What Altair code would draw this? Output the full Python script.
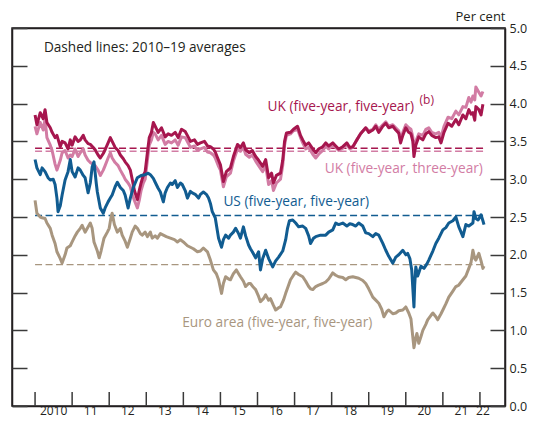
import altair as alt
import pandas as pd

# ---------------- data (decimal years, per cent) ----------------
uk_t = [2010.00, 2010.05, 2010.14, 2010.22, 2010.27, 2010.32, 2010.41, 2010.46, 2010.54, 2010.59, 2010.68, 2010.73, 2010.81, 2010.89, 2010.95,
        2011.00, 2011.08, 2011.16, 2011.22, 2011.30, 2011.35, 2011.43, 2011.49, 2011.57, 2011.62, 2011.70, 2011.76, 2011.84, 2011.89, 2011.97,
        2012.03, 2012.08, 2012.16, 2012.24, 2012.30, 2012.38, 2012.43, 2012.51, 2012.57, 2012.62, 2012.68, 2012.76, 2012.81, 2012.86, 2012.92, 2012.97,
        2013.03, 2013.08, 2013.14, 2013.19, 2013.24, 2013.32, 2013.41, 2013.51, 2013.59, 2013.68, 2013.78, 2013.86, 2013.95,
        2014.05, 2014.14, 2014.19, 2014.30, 2014.38, 2014.46, 2014.57, 2014.65, 2014.73, 2014.81, 2014.86, 2014.95,
        2015.00, 2015.08, 2015.16, 2015.27, 2015.35, 2015.46, 2015.54, 2015.62, 2015.68, 2015.78, 2015.86, 2015.95,
        2016.03, 2016.14, 2016.22, 2016.30, 2016.38, 2016.43, 2016.51, 2016.62, 2016.68, 2016.73, 2016.78, 2016.89, 2016.97,
        2017.08, 2017.16, 2017.22, 2017.30, 2017.38, 2017.49, 2017.57, 2017.65, 2017.76, 2017.84, 2017.92,
        2018.03, 2018.11, 2018.19, 2018.30, 2018.41, 2018.49, 2018.57, 2018.68, 2018.78, 2018.92,
        2019.00, 2019.11, 2019.19, 2019.27, 2019.38, 2019.46, 2019.54, 2019.65, 2019.73, 2019.81, 2019.86, 2019.92,
        2020.00, 2020.08, 2020.14, 2020.19, 2020.22, 2020.27, 2020.35, 2020.46, 2020.54, 2020.62, 2020.70, 2020.81, 2020.89, 2020.95,
        2021.03, 2021.14, 2021.24, 2021.35, 2021.43, 2021.54, 2021.62, 2021.70, 2021.76, 2021.81, 2021.86, 2021.89, 2021.97,
        2022.03, 2022.08]

uk_5y5y = [3.85, 3.72, 3.88, 3.80, 3.92, 3.75, 3.68, 3.62, 3.55, 3.58, 3.43, 3.50, 3.48, 3.40, 3.52,
           3.45, 3.56, 3.50, 3.52, 3.58, 3.52, 3.47, 3.46, 3.42, 3.39, 3.32, 3.28, 3.34, 3.39, 3.48,
           3.55, 3.50, 3.42, 3.38, 3.32, 3.27, 3.23, 3.18, 3.12, 3.00, 2.85, 2.73, 2.85, 2.95, 3.05, 3.10,
           3.35, 3.55, 3.62, 3.75, 3.70, 3.62, 3.68, 3.56, 3.60, 3.58, 3.62, 3.55, 3.66,
           3.63, 3.55, 3.50, 3.52, 3.46, 3.48, 3.50, 3.44, 3.43, 3.40, 3.36, 3.25,
           3.19, 2.97, 3.10, 3.15, 3.30, 3.46, 3.42, 3.48, 3.39, 3.35, 3.38, 3.30,
           3.25, 3.17, 3.26, 3.02, 3.08, 2.95, 3.05, 3.08, 3.25, 3.50, 3.61, 3.62, 3.66,
           3.70, 3.58, 3.52, 3.45, 3.48, 3.40, 3.35, 3.40, 3.43, 3.48, 3.44,
           3.48, 3.44, 3.40, 3.43, 3.48, 3.42, 3.43, 3.52, 3.60, 3.68,
           3.62, 3.65, 3.70, 3.62, 3.70, 3.74, 3.68, 3.70, 3.65, 3.61, 3.48, 3.58,
           3.68, 3.62, 3.60, 3.50, 3.30, 3.45, 3.56, 3.52, 3.60, 3.63, 3.58, 3.55, 3.56, 3.48,
           3.62, 3.74, 3.70, 3.79, 3.72, 3.85, 3.80, 3.92, 3.86, 3.88, 3.78, 3.96, 3.92,
           3.85, 3.99]

uk_5y3y = [3.70, 3.60, 3.75, 3.65, 3.80, 3.55, 3.45, 3.38, 3.20, 3.12, 3.25, 3.35, 3.38, 3.28, 3.32,
           3.30, 3.40, 3.30, 3.35, 3.40, 3.32, 3.25, 3.22, 3.20, 3.18, 3.12, 3.05, 3.12, 3.18, 3.28,
           3.35, 3.28, 3.22, 3.18, 3.12, 3.05, 3.00, 2.95, 2.90, 2.80, 2.72, 2.62, 2.72, 2.85, 2.95, 3.00,
           3.25, 3.45, 3.52, 3.62, 3.60, 3.52, 3.58, 3.46, 3.50, 3.48, 3.52, 3.45, 3.56,
           3.55, 3.47, 3.42, 3.44, 3.38, 3.40, 3.42, 3.36, 3.35, 3.32, 3.28, 3.17,
           3.12, 2.90, 3.03, 3.08, 3.24, 3.40, 3.37, 3.42, 3.33, 3.29, 3.32, 3.24,
           3.18, 3.10, 3.18, 2.93, 2.98, 2.85, 2.95, 3.00, 3.18, 3.45, 3.58, 3.60, 3.64,
           3.66, 3.55, 3.48, 3.40, 3.42, 3.33, 3.28, 3.33, 3.38, 3.44, 3.40,
           3.45, 3.42, 3.38, 3.41, 3.46, 3.40, 3.42, 3.52, 3.60, 3.68,
           3.64, 3.66, 3.72, 3.66, 3.72, 3.76, 3.70, 3.72, 3.68, 3.64, 3.52, 3.62,
           3.72, 3.68, 3.66, 3.56, 3.38, 3.50, 3.60, 3.58, 3.66, 3.68, 3.62, 3.60, 3.62, 3.55,
           3.70, 3.82, 3.80, 3.90, 3.85, 3.96, 3.95, 4.08, 4.02, 4.10, 4.05, 4.22, 4.15,
           4.10, 4.16]

us_t = [2010.00, 2010.05, 2010.14, 2010.19, 2010.27, 2010.35, 2010.41, 2010.49, 2010.54, 2010.59, 2010.62, 2010.68, 2010.73, 2010.81, 2010.89, 2010.95,
        2011.00, 2011.08, 2011.16, 2011.22, 2011.30, 2011.35, 2011.43, 2011.49, 2011.54, 2011.59, 2011.65, 2011.68, 2011.76, 2011.84, 2011.89, 2011.97,
        2012.03, 2012.08, 2012.16, 2012.22, 2012.30, 2012.38, 2012.43, 2012.51, 2012.57, 2012.65, 2012.76, 2012.86, 2012.97,
        2013.05, 2013.11, 2013.19, 2013.24, 2013.32, 2013.38, 2013.46, 2013.51, 2013.57, 2013.65, 2013.70, 2013.78, 2013.84, 2013.92, 2013.97,
        2014.05, 2014.11, 2014.19, 2014.24, 2014.32, 2014.41, 2014.46, 2014.54, 2014.62, 2014.68, 2014.73, 2014.78, 2014.86, 2014.95,
        2015.03, 2015.08, 2015.14, 2015.22, 2015.27, 2015.35, 2015.41, 2015.49, 2015.54, 2015.62, 2015.68, 2015.76, 2015.81, 2015.86, 2015.95,
        2016.03, 2016.08, 2016.14, 2016.22, 2016.30, 2016.41, 2016.49, 2016.57, 2016.68, 2016.76, 2016.81, 2016.86, 2016.95,
        2017.03, 2017.11, 2017.22, 2017.30, 2017.38, 2017.43, 2017.51, 2017.57, 2017.70, 2017.84, 2017.92,
        2018.03, 2018.11, 2018.19, 2018.30, 2018.41, 2018.49, 2018.57, 2018.65, 2018.73, 2018.84, 2018.92,
        2019.00, 2019.11, 2019.19, 2019.27, 2019.38, 2019.46, 2019.54, 2019.65, 2019.73, 2019.81, 2019.92,
        2020.00, 2020.05, 2020.11, 2020.16, 2020.22, 2020.24, 2020.27, 2020.32, 2020.35, 2020.41, 2020.49, 2020.57, 2020.62, 2020.73, 2020.81, 2020.89,
        2021.00, 2021.08, 2021.16, 2021.27, 2021.35, 2021.43, 2021.49, 2021.54, 2021.62, 2021.70, 2021.81, 2021.84, 2021.89, 2021.95,
        2022.03, 2022.08, 2022.11]

us_5y5y = [3.26, 3.15, 3.06, 3.15, 3.10, 3.02, 2.99, 3.00, 2.93, 2.75, 2.57, 2.65, 2.79, 2.99, 3.10, 3.26,
           3.10, 3.03, 3.15, 3.12, 3.05, 3.02, 2.82, 2.95, 3.16, 3.23, 2.95, 2.83, 2.62, 2.55, 2.62, 2.70,
           2.75, 2.79, 2.90, 2.96, 2.89, 2.85, 2.79, 2.62, 2.75, 2.89, 3.02, 3.05, 3.06,
           3.08, 3.06, 3.01, 2.96, 2.88, 2.83, 2.70, 2.82, 2.89, 2.95, 2.93, 2.98, 2.89, 2.95, 2.93,
           2.85, 2.75, 2.84, 2.82, 2.80, 2.75, 2.80, 2.83, 2.80, 2.75, 2.68, 2.57, 2.49, 2.22,
           2.10, 2.20, 2.26, 2.22, 2.26, 2.30, 2.35, 2.28, 2.22, 2.37, 2.25, 2.13, 2.08, 2.04, 1.96,
           2.04, 1.80, 1.95, 2.06, 1.95, 1.84, 1.92, 1.97, 2.05, 2.20, 2.35, 2.45, 2.46,
           2.42, 2.37, 2.38, 2.35, 2.25, 2.15, 2.22, 2.24, 2.26, 2.26, 2.30,
           2.33, 2.42, 2.40, 2.42, 2.38, 2.41, 2.40, 2.38, 2.42, 2.38, 2.29,
           2.28, 2.24, 2.28, 2.26, 2.15, 2.06, 1.98, 1.89, 1.97, 2.00, 2.06,
           2.00, 2.02, 1.95, 1.80, 1.31, 1.60, 1.84, 1.72, 1.76, 1.85, 1.82, 1.88, 1.93, 2.05, 2.15, 2.22,
           2.33, 2.36, 2.42, 2.45, 2.50, 2.37, 2.30, 2.24, 2.40, 2.38, 2.42, 2.57, 2.48, 2.46,
           2.53, 2.45, 2.40]

ea_t = [2010.00, 2010.05, 2010.14, 2010.19, 2010.27, 2010.32, 2010.41, 2010.46, 2010.54, 2010.59, 2010.68, 2010.73, 2010.81, 2010.86, 2010.95,
        2011.00, 2011.08, 2011.14, 2011.22, 2011.27, 2011.35, 2011.41, 2011.49, 2011.54, 2011.59, 2011.68, 2011.73, 2011.78, 2011.86, 2011.95,
        2012.00, 2012.05, 2012.08, 2012.14, 2012.22, 2012.30, 2012.35, 2012.43, 2012.49, 2012.57, 2012.62, 2012.70, 2012.76, 2012.84, 2012.89, 2012.97,
        2013.03, 2013.11, 2013.16, 2013.24, 2013.30, 2013.38, 2013.46, 2013.54, 2013.65, 2013.76, 2013.84, 2013.92,
        2014.00, 2014.11, 2014.19, 2014.27, 2014.38, 2014.46, 2014.54, 2014.65, 2014.73, 2014.81, 2014.89, 2014.95,
        2015.03, 2015.08, 2015.14, 2015.22, 2015.27, 2015.35, 2015.43, 2015.49, 2015.54, 2015.62, 2015.68, 2015.76, 2015.81, 2015.89, 2015.95,
        2016.03, 2016.08, 2016.16, 2016.22, 2016.30, 2016.35, 2016.43, 2016.49, 2016.57, 2016.62, 2016.70, 2016.76, 2016.84, 2016.89, 2016.97,
        2017.03, 2017.11, 2017.22, 2017.30, 2017.38, 2017.43, 2017.49, 2017.57, 2017.65, 2017.76, 2017.84, 2017.92,
        2018.03, 2018.11, 2018.19, 2018.30, 2018.38, 2018.46, 2018.57, 2018.65, 2018.73, 2018.84, 2018.92,
        2019.00, 2019.11, 2019.19, 2019.27, 2019.35, 2019.41, 2019.49, 2019.54, 2019.65, 2019.73, 2019.81, 2019.92,
        2020.00, 2020.08, 2020.14, 2020.16, 2020.22, 2020.27, 2020.30, 2020.35, 2020.41, 2020.46, 2020.54, 2020.59, 2020.68, 2020.73, 2020.81, 2020.86, 2020.95,
        2021.00, 2021.08, 2021.16, 2021.27, 2021.35, 2021.43, 2021.54, 2021.62, 2021.70, 2021.76, 2021.81, 2021.86, 2021.89, 2021.97,
        2022.03, 2022.08, 2022.11]

ea_5y5y = [2.72, 2.55, 2.50, 2.49, 2.48, 2.42, 2.35, 2.26, 2.15, 2.04, 1.95, 1.89, 2.00, 2.09, 2.12,
           2.17, 2.25, 2.30, 2.35, 2.39, 2.30, 2.35, 2.42, 2.35, 2.17, 2.05, 1.96, 2.05, 2.22, 2.30,
           2.35, 2.50, 2.55, 2.40, 2.30, 2.35, 2.26, 2.18, 2.10, 2.22, 2.30, 2.38, 2.35, 2.28, 2.26, 2.30,
           2.24, 2.30, 2.22, 2.25, 2.22, 2.28, 2.26, 2.24, 2.22, 2.20, 2.17, 2.20,
           2.17, 2.12, 2.10, 2.08, 2.04, 2.05, 2.09, 2.04, 1.93, 1.80, 1.75, 1.67,
           1.49, 1.62, 1.71, 1.68, 1.67, 1.75, 1.80, 1.75, 1.71, 1.65, 1.58, 1.62, 1.62, 1.57, 1.54,
           1.45, 1.38, 1.42, 1.47, 1.40, 1.42, 1.33, 1.27, 1.30, 1.31, 1.40, 1.49, 1.60, 1.67, 1.73,
           1.77, 1.74, 1.71, 1.65, 1.58, 1.55, 1.54, 1.58, 1.60, 1.62, 1.64, 1.68,
           1.76, 1.73, 1.71, 1.70, 1.67, 1.70, 1.71, 1.70, 1.69, 1.66, 1.62,
           1.55, 1.44, 1.40, 1.36, 1.28, 1.18, 1.25, 1.27, 1.22, 1.23, 1.26, 1.27,
           1.31, 1.23, 1.15, 1.05, 0.77, 0.90, 0.96, 0.83, 0.92, 1.00, 1.08, 1.14, 1.20, 1.23, 1.18, 1.14, 1.22,
           1.27, 1.35, 1.44, 1.52, 1.58, 1.60, 1.67, 1.72, 1.82, 1.90, 2.06, 1.95, 1.93, 2.02,
           1.92, 1.82, 1.85]

avg_series = ["UK (five-year, five-year)", "UK (five-year, three-year)", "US (five-year, five-year)", "Euro area (five-year, five-year)"]
avg_values = [3.41, 3.37, 2.52, 1.87]
avg_start = [2010.0, 2010.0, 2010.0, 2010.0]
avg_end = [2022.11, 2022.11, 2022.11, 2022.11]

year_ticks = list(range(2010, 2023))
year_labels = ["2010", "11", "12", "13", "14", "15", "16", "17", "18", "19", "20", "21", "22"]
year_label_pos = [2010.5, 2011.5, 2012.5, 2013.5, 2014.5, 2015.5, 2016.5, 2017.5, 2018.5, 2019.5, 2020.5, 2021.5, 2022.08]
value_ticks = [0.0, 0.5, 1.0, 1.5, 2.0, 2.5, 3.0, 3.5, 4.0, 4.5, 5.0]

x_domain = [2009.378, 2022.676]
y_domain = [0.0, 5.0]

label_text = ["UK (five-year, five-year)", "(b)", "UK (five-year, three-year)",
              "US (five-year, five-year)", "Euro area (five-year, five-year)", "Dashed lines: 2010\u201319 averages"]
label_x = [2016.27, 2020.37, 2022.08, 2015.08, 2013.97, 2010.24]
label_y = [3.95, 4.05, 3.14, 2.70, 1.10, 4.73]

# ---------------- styling ----------------
C_UK55 = "#a6164e"
C_UK53 = "#d27ca4"
C_US = "#115c91"
C_EA = "#a8967f"
C_TXT = "#231f20"
C_TICK = "#3a3a3a"
FONT = "Open Sans"
W, H = 493, 378
TICK = 15

series_colors = [C_UK55, C_UK53, C_US, C_EA]
label_colors = [C_UK55, C_UK55, C_UK53, C_US, C_EA, C_TXT]
label_sizes = [13.7, 12, 13.7, 13.7, 13.7, 13.6]
label_align = ["left", "left", "right", "left", "left", "left"]

assert len(uk_t) == len(uk_5y5y) == len(uk_5y3y)
assert len(us_t) == len(us_5y5y)
assert len(ea_t) == len(ea_5y5y)

frames = [
    pd.DataFrame({"t": uk_t, "v": uk_5y3y}),
    pd.DataFrame({"t": uk_t, "v": uk_5y5y}),
    pd.DataFrame({"t": us_t, "v": us_5y5y}),
    pd.DataFrame({"t": ea_t, "v": ea_5y5y}),
]
avg_df = pd.DataFrame({"s": avg_series, "v": avg_values, "t": avg_start, "t2": avg_end, "c": series_colors})
lab_df = pd.DataFrame({"text": label_text, "t": label_x, "v": label_y, "c": label_colors,
                       "size": label_sizes, "align": label_align})
xtick_df = pd.DataFrame({"t": year_ticks})
xlab_df = pd.DataFrame({"t": year_label_pos, "text": year_labels})

xscale = alt.Scale(domain=x_domain, nice=False, zero=False)
yscale = alt.Scale(domain=y_domain, nice=False, zero=True)

y_right = alt.Axis(orient="right", offset=-TICK, tickSize=TICK, tickWidth=1.5, tickColor=C_TICK,
                   domain=False, grid=False, values=value_ticks, format=".1f",
                   labelPadding=4, labelFontSize=12.5, labelFont=FONT, labelColor=C_TXT, labelFlush=False,
                   title="Per cent", titleAngle=0, titleAlign="right", titleBaseline="middle",
                   titleX=TICK, titleY=-12, titleFont=FONT, titleFontSize=13, titleFontWeight="normal",
                   titleColor=C_TXT)
y_left = alt.Axis(orient="left", offset=-TICK, tickSize=TICK, tickWidth=1.5, tickColor=C_TICK,
                  domain=False, grid=False, values=value_ticks, labels=False, title=None)
# frame pieces drawn by axes: long ticks at 0 and 5 give top and bottom edges, axis domains give the sides
frame_tb = alt.Axis(orient="left", offset=-W, tickSize=W, tickWidth=1.5, tickColor=C_TXT,
                    domain=False, grid=False, values=[y_domain[0], y_domain[1]], labels=False, title=None)
frame_l = alt.Axis(orient="left", offset=0, domain=True, domainColor=C_TXT, domainWidth=1.5,
                   ticks=False, labels=False, grid=False, title=None)
frame_r = alt.Axis(orient="right", offset=0, domain=True, domainColor=C_TXT, domainWidth=1.5,
                   ticks=False, labels=False, grid=False, title=None)

X = lambda: alt.X("t:Q", scale=xscale, axis=None)
Y = lambda: alt.Y("v:Q", scale=yscale, axis=None)

layers = []
for ax in [frame_tb, frame_l, frame_r, y_left]:
    layers.append(
        alt.Chart(avg_df).mark_rule(opacity=0).encode(x=X(), y=alt.Y("v:Q", scale=yscale, axis=ax))
    )
# dashed averages (carries right axis)
layers.append(
    alt.Chart(avg_df).mark_rule(strokeDash=[7, 3.5], strokeWidth=1.4).encode(
        x=X(), x2="t2:Q",
        y=alt.Y("v:Q", scale=yscale, axis=y_right),
        color=alt.Color("c:N", scale=None, legend=None),
    )
)
for df, col in zip(frames, [C_UK53, C_UK55, C_US, C_EA]):
    layers.append(
        alt.Chart(df).mark_line(color=col, strokeWidth=3, strokeJoin="round").encode(
            x=X(), y=Y(), order="t:Q",
        )
    )
for al in ["left", "right"]:
    layers.append(
        alt.Chart(lab_df).transform_filter(alt.datum.align == al).mark_text(
            font=FONT, baseline="middle", align=al
        ).encode(
            x=X(), y=Y(),
            text="text:N",
            color=alt.Color("c:N", scale=None, legend=None),
            size=alt.Size("size:Q", scale=None, legend=None),
        )
    )
# x-axis ticks (inward, at year starts) and year labels (mid-year)
layers.append(
    alt.Chart(xtick_df).mark_rule(color=C_TICK, strokeWidth=1.5).encode(
        x=X(), y=alt.value(H - 14), y2=alt.value(H)
    )
)
layers.append(
    alt.Chart(xlab_df).mark_text(font=FONT, fontSize=12, color=C_TXT, baseline="middle", align="center").encode(
        x=X(), y=alt.value(H + 5), text="text:N"
    )
)

chart = alt.layer(*layers).resolve_axis(y="independent").properties(
    width=W, height=H,
    autosize=alt.AutoSizeParams(type="none"),
    padding={"left": 4, "top": 20, "right": 22, "bottom": 13},
    background="white",
).configure_view(stroke=C_TXT, strokeWidth=1.5)

chart.save("out.html", embed_options={"renderer": "svg", "actions": False})
